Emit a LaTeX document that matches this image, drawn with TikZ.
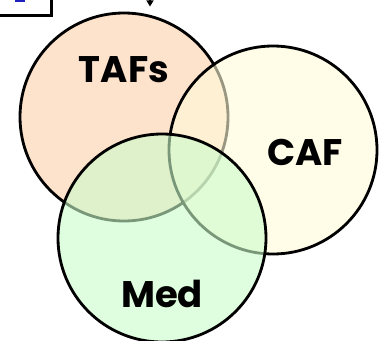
\documentclass[tikz,border=0pt]{standalone}
\usepackage{fontspec}
\setmainfont{Poppins}
\usetikzlibrary{arrows.meta}
\definecolor{tafsfill}{HTML}{FCD0AA}
\definecolor{caffill}{HTML}{FFFCD9}
\definecolor{medfill}{HTML}{CBFCCB}
\definecolor{labelblue}{HTML}{2020C0}
\tikzset{
  setcircle/.style={circle, draw=black, line width=2.8pt, minimum size=208pt, inner sep=0pt, fill opacity=0.6},
  setlabel/.style={font=\fontsize{37}{37}\selectfont\bfseries, text=black},
}
\begin{document}
\begin{tikzpicture}[x=1pt, y=-1pt]
  \useasboundingbox (0,0) rectangle (387,340);
  \clip (0,0) rectangle (387,340);
  \fill[white] (0,0) rectangle (387,340);
  % box at the upper left, mostly outside the frame
  \node[draw=black, line width=2.6pt, fill=white, minimum width=80pt, minimum height=40pt, anchor=south east] (box) at (53,17) {};
  \fill[labelblue] (15,0) rectangle (25,1.6);
  % incoming arrow from above
  \coordinate (arrtop) at (150,-20);
  \coordinate (arrend) at (150,6.5);
  \draw[line width=1.2pt, -{Triangle[length=6pt, width=7pt]}] (arrtop) -- (arrend);
  % the three sets
  \node[setcircle, fill=tafsfill] (tafs) at (124,117) {};
  \node[setcircle, fill=caffill] (caf) at (273,150) {};
  \node[setcircle, fill=medfill] (med) at (162,238) {};
  % labels
  \node[setlabel] (ltafs) at (124,70) {TAFs};
  \node[setlabel] (lcaf) at (305,152) {CAF};
  \node[setlabel] (lmed) at (162,294) {Med};
\end{tikzpicture}
\end{document}
